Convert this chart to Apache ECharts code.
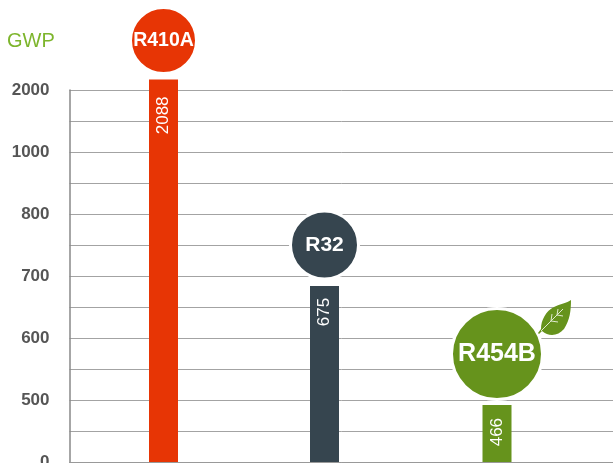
<!DOCTYPE html>
<html>
<head>
<meta charset="utf-8">
<style>
    html, body { margin: 0; padding: 0; background: #fff; }
    #chart { width: 613px; height: 463px; }
</style>
<script src="https://cdn.jsdelivr.net/npm/echarts@6/dist/echarts.min.js"></script>
</head>
<body>
<div id="chart"></div>
<script>
// the axis is not linear: each tick label sits on one whole step of the scale
var tickLabels = ['0', '500', '600', '700', '800', '1000', '2000'];
var refrigerants = ['R410A', 'R32', 'R454B'];
var gwpValues = [2088, 675, 466];
var barColors = ['#e73505', '#36454f', '#66931c'];
// bar heights as read against the tick steps
var barLevels = [6.17, 2.84, 0.92];
// horizontal place of each bar on the hidden x scale
var barSlots = [94, 255, 427.5];
// gap between the bar top and its rotated label
var labelGaps = [17, 12, 13];
// bubble heights on the same scale, and their sizes
var bubbleLevels = [6.8, 3.5, 1.74];
var bubbleSizes = [66, 68, 91];
var bubbleFonts = [19.5, 21, 25];

// leaf decoration next to the R454B bubble
echarts.graphic.registerShape('leaf', echarts.graphic.extendPath(
    'M538 333 L541 329 C541 320 546 311 554 307 C560 304 567 303 571 300 C571 310 570 320 564 329 C558 336 549 337 542 331 L539 334 Z'
));
echarts.graphic.registerShape('leafVeins', echarts.graphic.extendPath(
    'M541 331 L563 309 M551 321 L558 322 M551 321 L552 314 M557 315 L563 316 M557 315 L558 309'
));

var chart = echarts.init(document.getElementById('chart'));

var barData = gwpValues.map(function (v, i) {
    return {
        value: [barSlots[i], barLevels[i]],
        gwp: v,
        itemStyle: { color: barColors[i] },
        label: { distance: labelGaps[i] }
    };
});
var bubbleData = refrigerants.map(function (name, i) {
    return {
        name: name,
        value: [barSlots[i], bubbleLevels[i]],
        symbolSize: bubbleSizes[i],
        itemStyle: { color: barColors[i] },
        label: { fontSize: bubbleFonts[i] }
    };
});

chart.setOption({
    animation: false,
    textStyle: { fontFamily: 'Liberation Sans' },
    title: {
        text: 'GWP',
        left: 2,
        top: 26,
        textStyle: { color: '#7db52c', fontSize: 20, fontWeight: 'normal', fontFamily: 'Liberation Sans' }
    },
    grid: { left: 69.5, right: 0, top: 90, bottom: 1, outerBoundsMode: 'none' },
    xAxis: {
        type: 'value',
        min: 0,
        max: 543.5,
        splitLine: { show: false },
        axisTick: { show: false },
        axisLabel: { show: false },
        axisLine: { show: true, lineStyle: { color: '#999', width: 1 } }
    },
    yAxis: {
        type: 'value',
        min: 0,
        max: 6,
        interval: 0.5,
        axisTick: { show: false },
        axisLine: { show: true, lineStyle: { color: '#888', width: 1.5 } },
        splitLine: { lineStyle: { color: '#a3a3a3', width: 1 } },
        axisLabel: {
            margin: 20,
            color: '#555',
            fontSize: 17,
            fontWeight: 'bold',
            padding: [4, 0, 0, 0],
            showMinLabel: true,
            showMaxLabel: true,
            formatter: function (v) {
                return v % 1 === 0 ? tickLabels[v] : '';
            }
        }
    },
    series: [
        {
            type: 'bar',
            barWidth: 29,
            clip: false,
            data: barData,
            label: {
                show: true,
                position: 'insideTop',
                rotate: 90,
                align: 'right',
                verticalAlign: 'middle',
                color: '#fff',
                fontSize: 17,
                formatter: function (p) { return p.data.gwp; }
            }
        },
        {
            type: 'scatter',
            clip: false,
            symbol: 'circle',
            data: bubbleData,
            itemStyle: { borderColor: '#fff', borderWidth: 3, opacity: 1 },
            label: {
                show: true,
                position: 'inside',
                color: '#fff',
                fontWeight: 'bold',
                formatter: '{b}'
            }
        }
    ],
    graphic: [
        { type: 'leaf', z: 10, style: { fill: '#66931c' } },
        { type: 'leafVeins', z: 11, style: { fill: 'none', stroke: '#dfe9cf', lineWidth: 1 } }
    ]
});
</script>
</body>
</html>
